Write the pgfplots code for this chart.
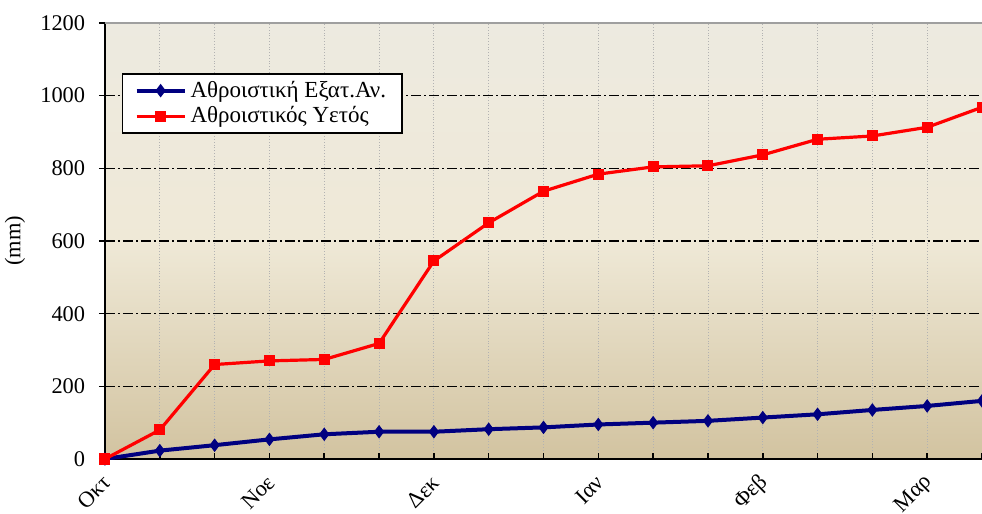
\documentclass[border=0pt]{standalone}
\usepackage{fontspec}
\setmainfont{Liberation Serif}
\usepackage{pgfplots}
\pgfplotsset{compat=1.18}

\definecolor{bgtop}{HTML}{EDEAE0}
\definecolor{bgmid}{HTML}{EFE9D7}
\definecolor{bgbot}{HTML}{D2C3A0}
\definecolor{navyb}{HTML}{000080}
\definecolor{redl}{HTML}{FF0000}

% vertical shading: 25bp = bottom of the plot area, 75bp = top
\pgfdeclareverticalshading{plotbg}{100bp}{color(0bp)=(bgbot); color(25bp)=(bgbot); color(50bp)=(bgmid); color(75bp)=(bgtop); color(100bp)=(bgtop)}

\begin{document}
\fontsize{11.2}{13}\selectfont
\begin{tikzpicture}
\begin{axis}[
    name=ax,
    scale only axis,
    width=438.5pt, height=218pt,
    xmin=0, xmax=16,
    ymin=0, ymax=1200,
    axis background/.style={shading=plotbg},
    axis x line*=bottom,
    axis y line*=left,
    axis line style={black, line width=0.9pt},
    xtick={0,3,6,9,12,15},
    xticklabels={Οκτ,Νοε,Δεκ,Ιαν,Φεβ,Μαρ},
    minor xtick={1,2,4,5,7,8,10,11,13,14,16},
    ytick={0,200,...,1200},
    xtick align=inside,
    ytick align=outside,
    major tick length=3pt,
    minor tick length=3pt,
    tick style={black, line width=0.8pt},
    minor tick style={black, line width=0.8pt},
    xmajorgrids, xminorgrids, ymajorgrids,
    x grid style={gray!60, densely dotted, line width=0.4pt},
    minor x grid style={gray!60, densely dotted, line width=0.4pt},
    y grid style={black, line width=0.8pt, dash pattern=on 5pt off 1.5pt on 1pt off 1.5pt},
    /pgf/number format/assume math mode=true,
    /pgf/number format/1000 sep={},
    ticklabel style={font=\fontsize{11.2}{13}\selectfont},
    yticklabel style={xshift=-3pt},
    xticklabel style={yshift=-10pt, xshift=1pt, rotate=45, anchor=east, inner sep=0pt},
    ylabel={(mm)},
    ylabel style={at={(axis description cs:-0.1026,0.5)}, anchor=center, rotate=0},
    legend style={
        at={(axis description cs:0.0194,0.885)}, anchor=north west,
        draw=black, line width=0.7pt, fill=white,
        font=\fontsize{11.5}{13}\selectfont,
        inner xsep=6pt, inner ysep=1.5pt,
        row sep=-1pt,
        cells={anchor=west},
    },
    legend image code/.code={
        \draw[mark repeat=2, mark phase=2, #1] plot coordinates {(0cm,0cm) (0.42cm,0cm) (0.84cm,0cm)};
    },
]
\addplot[navyb, line width=2pt, mark=diamond*, mark size=3pt, mark options={solid, fill=navyb, line width=0.5pt}]
coordinates {
(0,0) (1,23) (2,38) (3,54) (4,68) (5,75) (6,75) (7,82) (8,87)
(9,95) (10,100) (11,105) (12,114) (13,123) (14,135) (15,146) (16,160)
};
\addlegendentry{Αθροιστική Εξατ.Αν.}

\addplot[redl, line width=1.6pt, mark=square*, mark size=2.5pt, mark options={solid, fill=redl, line width=0.5pt}]
coordinates {
(0,0) (1,80) (2,260) (3,270) (4,274) (5,318) (6,545) (7,650) (8,737)
(9,784) (10,804) (11,807) (12,837) (13,880) (14,889) (15,913) (16,968)
};
\addlegendentry{Αθροιστικός Υετός}

\draw[gray!75, line width=1pt] (axis cs:0,1200) -- (axis cs:16,1200);
\end{axis}
\pgfresetboundingbox
\path[use as bounding box] ([xshift=-52.5pt,yshift=-27pt]ax.south west) rectangle ([yshift=11.5pt]ax.north east);
\end{tikzpicture}
\end{document}
